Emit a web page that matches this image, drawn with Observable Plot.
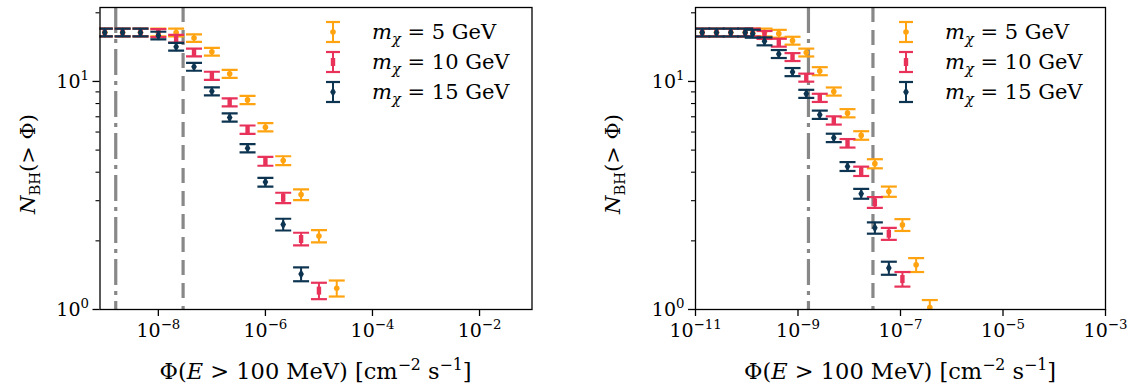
<!DOCTYPE html>
<html><head><meta charset="utf-8">
<script src="https://cdn.jsdelivr.net/npm/d3@7"></script>
<script src="https://cdn.jsdelivr.net/npm/@observablehq/plot@0.6"></script>
<style>
body{margin:0;background:#fff;}
#wrap{position:relative;width:1135px;height:387px;}
.panel{position:absolute;top:0;}
svg text{white-space:pre;}
</style></head><body><div id="wrap"></div>
<script>
// ---------- data ----------
const dashDotFlux = [1.6e-9];
const dashedFlux = [2.9e-8];

const massLabels = ["5", "10", "15"];
const seriesColors = ["#ffa310", "#e8325a", "#0d3451"];

// left panel
const leftFlux = [1.0e-9, 2.15e-9, 4.64e-9, 1.0e-8, 2.15e-8, 4.64e-8, 1.0e-7, 2.15e-7, 4.64e-7, 1.0e-6, 2.15e-6, 4.64e-6, 1.0e-5, 2.15e-5];
const leftN5   = [16.4, 16.4, 16.4, 16.4, 16.4, 15.5, 13.5, 10.8, 8.3, 6.3, 4.5, 3.19, 2.1, 1.24];
const leftErr5 = [0.65, 0.65, 0.65, 0.65, 0.65, 0.6, 0.53, 0.43, 0.34, 0.26, 0.2, 0.17, 0.13, 0.1];
const leftN10   = [16.4, 16.4, 16.4, 16.3, 15.4, 13.4, 10.6, 8.1, 6.15, 4.47, 3.09, 2.04, 1.21];
const leftErr10 = [0.65, 0.65, 0.65, 0.65, 0.6, 0.53, 0.43, 0.33, 0.26, 0.2, 0.16, 0.13, 0.1];
const leftN15   = [16.4, 16.4, 16.4, 15.9, 14.2, 11.6, 9.05, 6.95, 5.1, 3.62, 2.36, 1.43];
const leftErr15 = [0.65, 0.65, 0.65, 0.62, 0.56, 0.46, 0.37, 0.29, 0.21, 0.16, 0.14, 0.1];

// right panel
const rightFlux = [1.35e-11, 2.57e-11, 4.89e-11, 9.33e-11, 1.31e-10, 2.22e-10, 4.22e-10, 7.82e-10, 1.45e-9, 2.66e-9, 4.99e-9, 9.25e-9, 1.71e-8, 3.16e-8, 5.92e-8, 1.09e-7, 2.02e-7, 3.73e-7];
const rightN5   = [16.4, 16.4, 16.4, 16.4, 16.4, 16.4, 16.2, 15.1, 13.4, 11.1, 9.04, 7.26, 5.8, 4.36, 3.29, 2.35, 1.57, 1.02];
const rightErr5 = [0.65, 0.65, 0.65, 0.65, 0.65, 0.65, 0.64, 0.6, 0.53, 0.45, 0.37, 0.3, 0.25, 0.2, 0.17, 0.14, 0.11, 0.08];
const rightN10   = [16.4, 16.4, 16.4, 16.4, 16.4, 16.0, 14.8, 12.8, 10.4, 8.48, 6.75, 5.36, 4.04, 2.95, 2.15, 1.36];
const rightErr10 = [0.65, 0.65, 0.65, 0.65, 0.65, 0.64, 0.59, 0.51, 0.42, 0.35, 0.28, 0.23, 0.19, 0.16, 0.13, 0.1];
const rightN15   = [16.4, 16.4, 16.4, 16.4, 16.2, 15.0, 13.2, 11.0, 8.83, 7.15, 5.66, 4.24, 3.22, 2.28, 1.52];
const rightErr15 = [0.65, 0.65, 0.65, 0.65, 0.65, 0.6, 0.53, 0.45, 0.36, 0.3, 0.24, 0.19, 0.16, 0.13, 0.1];

// ticks
const leftXTicks = [1e-8, 1e-6, 1e-4, 1e-2];
const rightXTicks = [1e-11, 1e-9, 1e-7, 1e-5, 1e-3];
const yMajorTicks = [1, 10];
const yMinorTicks = [2, 3, 4, 5, 6, 7, 8, 9, 20];

// ---------- styling ----------
const FONT = "'DejaVu Serif', serif";
const TICK_FS = 19;
const LABEL_FS = 21;
const XLABEL_FS = 22.5;
const lineGrey = "#888888";
const ns = "http://www.w3.org/2000/svg";

const capSymbol = {draw(ctx, size) { const r = Math.sqrt(size / Math.PI); ctx.moveTo(-r, 0); ctx.lineTo(r, 0); }};
const rectSymbol = {draw(ctx, size) { const r = Math.sqrt(size / Math.PI); const w = r * 0.55;
  ctx.moveTo(-w, -r); ctx.lineTo(w, -r); ctx.lineTo(w, r); ctx.lineTo(-w, r); ctx.closePath(); }};
const markerSymbols = ["circle", rectSymbol, "diamond"];
const markerR = [2.8, 4, 3];
const d3Markers = [d3.symbolCircle, rectSymbol, d3.symbolDiamond];

const pow10 = d => "10^" + Math.round(Math.log10(d));

function richText(t, parts, fs) {
  let cur = 0;
  for (const p of parts) {
    const ts = document.createElementNS(ns, "tspan");
    const target = p.shift || 0;
    if (target !== cur) ts.setAttribute("dy", target - cur);
    cur = target;
    if (p.i) ts.setAttribute("font-style", "italic");
    if (p.s) ts.setAttribute("font-size", fs * 0.7);
    ts.textContent = p.t;
    t.appendChild(ts);
  }
}

function addText(svg, x, y, parts, anchor, transform, fs = LABEL_FS) {
  const t = document.createElementNS(ns, "text");
  t.setAttribute("x", x); t.setAttribute("y", y);
  t.setAttribute("text-anchor", anchor);
  t.setAttribute("font-size", fs);
  t.setAttribute("font-family", FONT);
  t.setAttribute("fill", "black");
  if (transform) t.setAttribute("transform", transform);
  richText(t, parts, fs);
  svg.appendChild(t);
}

function supify(svg) {
  svg.querySelectorAll("text").forEach(t => {
    const m = t.textContent.match(/^10\^(-?\d+)$/);
    if (!m) return;
    t.textContent = "";
    richText(t, [{t: "10"}, {t: m[1].replace("-", "\u2212"), s: true, shift: -8}], TICK_FS);
  });
}

function buildPanel(cfg) {
  const marks = [
    Plot.ruleX(dashDotFlux, {stroke: lineGrey, strokeWidth: 3.2, strokeDasharray: "26,6,4,6"}),
    Plot.ruleX(dashedFlux, {stroke: lineGrey, strokeWidth: 3.2, strokeDasharray: "15,8"})
  ];
  cfg.series.forEach((s, k) => {
    const data = s.N.map((n, i) => ({x: cfg.flux[i], y: n, lo: n - s.err[i], hi: n + s.err[i]}));
    const c = seriesColors[k];
    marks.push(
      Plot.ruleX(data, {x: "x", y1: "lo", y2: "hi", stroke: c, strokeWidth: 2, clip: true}),
      Plot.dot(data, {x: "x", y: "lo", symbol: capSymbol, r: 8, stroke: c, strokeWidth: 2.2, fill: "none", clip: true}),
      Plot.dot(data, {x: "x", y: "hi", symbol: capSymbol, r: 8, stroke: c, strokeWidth: 2.2, fill: "none", clip: true}),
      Plot.dot(data, {x: "x", y: "y", symbol: markerSymbols[k], r: markerR[k], fill: c, stroke: "none", clip: true})
    );
  });
  marks.push(
    Plot.axisX({ticks: cfg.xTicks, tickSize: 7, tickPadding: 7, tickFormat: pow10, fontSize: TICK_FS, label: null, strokeWidth: 1.3}),
    Plot.axisY({ticks: yMajorTicks, tickSize: 7, tickPadding: 4, tickFormat: pow10, fontSize: TICK_FS, label: null, strokeWidth: 1.3}),
    Plot.axisY({ticks: yMinorTicks, tickSize: 4, tickFormat: () => "", label: null, strokeWidth: 1.1}),
    Plot.frame({stroke: "black", strokeWidth: 1.3})
  );
  const svg = Plot.plot({
    width: cfg.width, height: 387,
    marginTop: 7, marginBottom: 78, marginLeft: cfg.marginLeft, marginRight: cfg.marginRight,
    x: {type: "log", domain: cfg.xDomain},
    y: {type: "log", domain: [1, 21.1]},
    style: {fontFamily: FONT, fontSize: TICK_FS + "px", color: "black", background: "white", overflow: "visible"},
    marks
  });
  supify(svg);
  const fx0 = cfg.marginLeft, fx1 = cfg.width - cfg.marginRight;
  // axis labels
  addText(svg, (fx0 + fx1) / 2, 379, [
    {t: "\u03A6("}, {t: "E", i: true}, {t: " > 100 MeV) [cm"}, {t: "\u22122", s: true, shift: -9},
    {t: " s"}, {t: "\u22121", s: true, shift: -9}, {t: "]"}
  ], "middle", null, XLABEL_FS);
  addText(svg, 0, 0, [{t: "N", i: true}, {t: "BH", s: true, shift: 5}, {t: "(> \u03A6)"}], "middle",
    `translate(${cfg.yLabelX},164) rotate(-90)`);
  // legend
  const lg = d3.select(svg).append("g");
  massLabels.forEach((m, k) => {
    const cy = cfg.legendRows[k], cx = cfg.legendIconX, c = seriesColors[k];
    lg.append("line").attr("x1", cx).attr("x2", cx).attr("y1", cy - 10).attr("y2", cy + 10).attr("stroke", c).attr("stroke-width", 2);
    [cy - 10, cy + 10].forEach(yy => lg.append("line").attr("x1", cx - 7).attr("x2", cx + 7).attr("y1", yy).attr("y2", yy).attr("stroke", c).attr("stroke-width", 2.2));
    lg.append("path").attr("transform", `translate(${cx},${cy})`)
      .attr("d", d3.symbol(d3Markers[k], markerR[k] * markerR[k] * Math.PI)()).attr("fill", c);
    addText(svg, cfg.legendTextX, cy + 7, [{t: "m", i: true}, {t: "\u03C7", i: true, s: true, shift: 5}, {t: ` = ${m} GeV`}], "start");
  });
  return svg;
}

const wrap = document.getElementById("wrap");
const left = buildPanel({
  width: 560, marginLeft: 99.5, marginRight: 28.5,
  xDomain: [8.13e-10, 9.55e-2], xTicks: leftXTicks, flux: leftFlux,
  series: [{N: leftN5, err: leftErr5}, {N: leftN10, err: leftErr10}, {N: leftN15, err: leftErr15}],
  yLabelX: 35, legendIconX: 333, legendTextX: 372, legendRows: [32, 62, 92]
});
const right = buildPanel({
  width: 575, marginLeft: 135, marginRight: 30,
  xDomain: [1e-11, 1e-3], xTicks: rightXTicks, flux: rightFlux,
  series: [{N: rightN5, err: rightErr5}, {N: rightN10, err: rightErr10}, {N: rightN15, err: rightErr15}],
  yLabelX: 60, legendIconX: 346, legendTextX: 385, legendRows: [32, 62, 92]
});
const dl = document.createElement("div"); dl.className = "panel"; dl.style.left = "0px"; dl.appendChild(left);
const dr = document.createElement("div"); dr.className = "panel"; dr.style.left = "560px"; dr.appendChild(right);
wrap.append(dl, dr);
</script></body></html>
